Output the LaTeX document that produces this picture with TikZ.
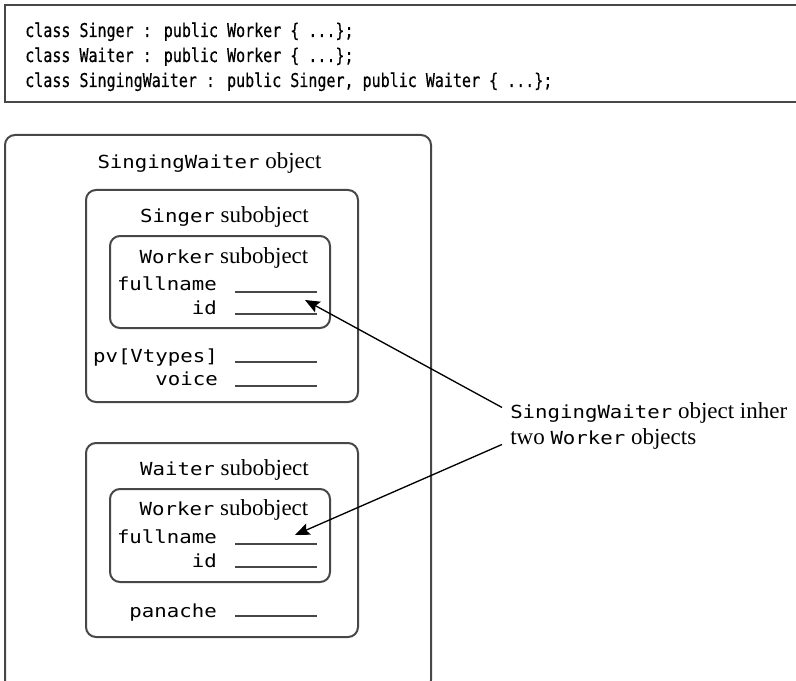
\documentclass[tikz,border=0pt]{standalone}
\usepackage{fontspec}
\setmainfont{Liberation Serif}
\newfontfamily\listfont[FakeStretch=0.79,FakeBold=0.4]{DejaVu Sans Mono}
\newfontfamily\memberfont[FakeStretch=1.15]{DejaVu Sans Mono}
\usetikzlibrary{arrows.meta}

\newcommand{\cls}[1]{{\memberfont\fontsize{13.5}{16}\selectfont #1}}

\begin{document}
\begin{tikzpicture}[x=0.75pt,y=-0.75pt,
  >={Stealth[length=11pt,width=9pt,inset=2pt]},
  box/.style={draw=black!72,line width=1.5pt,rounded corners=7.5pt},
  slot/.style={draw=black!72,line width=1.5pt},
  title/.style={anchor=base,inner sep=0pt,font=\fontsize{17.25}{20}\selectfont},
  member/.style={anchor=base east,inner sep=0pt,
    font=\memberfont\fontsize{13.5}{16}\selectfont},
  codeline/.style={anchor=base west,inner sep=0pt,
    font=\listfont\fontsize{14.25}{18}\selectfont},
  note/.style={anchor=base west,inner sep=0pt,font=\fontsize{17.25}{20}\selectfont}]
  \useasboundingbox (0,0) rectangle (796,681);

  % class declarations
  \draw[black!72,line width=1.8pt] (800,5) -- (5,5) -- (5,102) -- (800,102);
  \node[codeline] (code1) at (25,37) {class Singer : public Worker \{ ...\};};
  \node[codeline] (code2) at (25,62) {class Waiter : public Worker \{ ...\};};
  \node[codeline] (code3) at (25,87)
    {class SingingWaiter : public Singer, public Waiter \{ ...\};};

  % the whole object
  \draw[box] (5,135) rectangle (431,690);
  \node[title] (sw title) at (209.5,169) {\cls{SingingWaiter} object};

  % Singer part
  \draw[box] (86,190) rectangle (358,402);
  \node[title] (singer title) at (224.5,223) {\cls{Singer} subobject};
  \draw[box] (110,236) rectangle (330,328);
  \node[title] (worker1 title) at (224,263) {\cls{Worker} subobject};
  \node[member] (fullname1) at (217,290) {fullname};
  \draw[slot] (235,292) -- (317,292);
  \node[member] (id1) at (217,314) {id};
  \draw[slot] (235,314) -- (317,314);
  \node[member] (pv) at (218,362) {pv[Vtypes]};
  \draw[slot] (235,362) -- (317,362);
  \node[member] (voice) at (218,385) {voice};
  \draw[slot] (235,386) -- (317,386);

  % Waiter part
  \draw[box] (86,443) rectangle (358,637);
  \node[title] (waiter title) at (224.5,475) {\cls{Waiter} subobject};
  \draw[box] (110,489) rectangle (330,582);
  \node[title] (worker2 title) at (224,515) {\cls{Worker} subobject};
  \node[member] (fullname2) at (217,543) {fullname};
  \draw[slot] (235,544) -- (317,544);
  \node[member] (id2) at (217,567) {id};
  \draw[slot] (235,567) -- (317,567);
  \node[member] (panache) at (217,617) {panache};
  \draw[slot] (235,616) -- (317,616);

  % callout
  \node[note] (note1) at (510,418) {\cls{SingingWaiter} object inher};
  \node[note] (note2) at (510,444) {two \cls{Worker} objects};
  \coordinate (tip1) at (305,300);
  \coordinate (tip2) at (295,535);
  \draw[->,line width=1pt] ([shift={(-8,-5)}]note1.west) -- (tip1);
  \draw[->,line width=1pt] ([shift={(-8,6)}]note2.west) -- (tip2);
\end{tikzpicture}
\end{document}
